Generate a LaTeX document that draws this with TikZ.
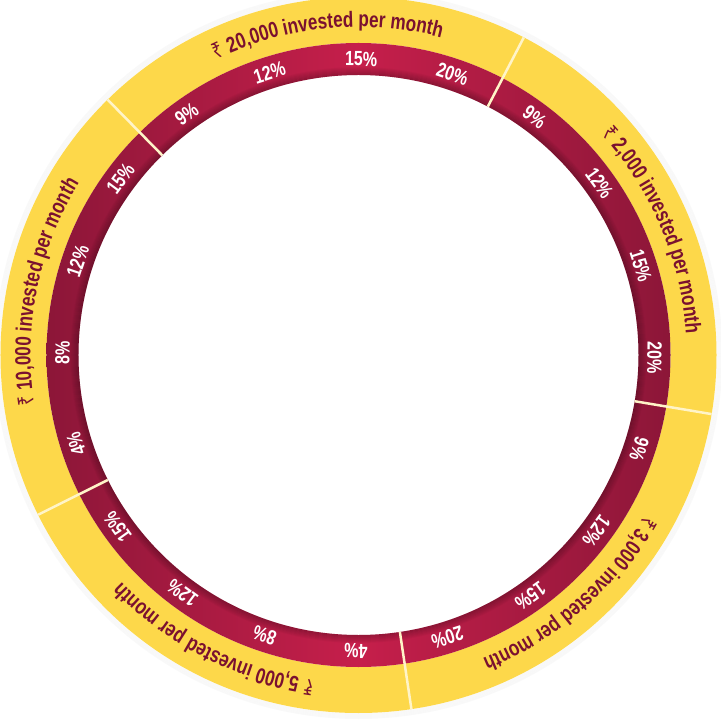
\documentclass[tikz,border=0pt]{standalone}
\usepackage{fontspec}
\setmainfont{Liberation Sans}
\newfontfamily\condfont[FakeStretch=0.78]{Liberation Sans}
\newfontfamily\rupeefont[FakeStretch=0.78]{Noto Sans}
\usetikzlibrary{decorations.text}
\definecolor{bandcol}{RGB}{253, 216, 74}
\definecolor{ringlight}{RGB}{198, 31, 75}
\definecolor{ringdark}{RGB}{140, 22, 56}
\definecolor{labelcol}{RGB}{122, 17, 48}
\definecolor{sepcol}{RGB}{255, 244, 200}
\newcommand{\bandfont}{\condfont\bfseries\fontsize{22bp}{26bp}\selectfont}
\newcommand{\rupeesign}{\rupeefont\bfseries\fontsize{22bp}{26bp}\selectfont}
\newcommand{\pctfont}{\condfont\bfseries\fontsize{20.5bp}{24bp}\selectfont}
\tikzset{
  band/.style   = {fill=bandcol, even odd rule},
  ring/.style   = {left color=ringdark, right color=ringdark,
                   middle color=ringlight, even odd rule},
  sep/.style    = {draw=sepcol, line width=2.5bp},
  pct/.style    = {font=\pctfont, text=white, inner sep=0pt},
  amount/.style = {decorate, decoration={text along path, text align=center,
                   text color=labelcol}},
}

\begin{document}
\begin{tikzpicture}[x=1bp, y=1bp]

  \useasboundingbox (-358.5,-365) rectangle (361.5,355);
  \fill[white] (-358.5,-365) rectangle (361.5,355);
  \coordinate (hub) at (0,0);

  %% ---------------- rings ----------------
  \foreach \i in {1,...,6}
    \draw[black, opacity=0.025, line width=1bp] (hub) circle (357.5+\i);
  \fill[band] (hub) circle (358) circle (312);
  \shade[ring] (hub) circle (312) circle (280);
  \foreach \i in {0,...,7}
    \draw[black, opacity={0.22-0.027*\i}, line width=1bp] (hub) circle (280.5+\i);

  %% ---------------- rates, and the cuts between amounts ----------------
  \foreach \b/\pa/\pb/\pc/\pd [count=\k] in {
      134.5/9/12/15/20,
      62.5/9/12/15/20,
      -9.5/9/12/15/20,
      -81.5/4/8/12/15,
      -153.5/4/8/12/15} {
    \foreach \p [count=\j] in {\pa,\pb,\pc,\pd} {
      \pgfmathsetmacro\a{\b-9-18*(\j-1)}
      \node[pct, rotate=\a-90] (pct-\k-\j) at (\a:296) {\p\%};
    }
    \draw[sep] (\b:280) -- (\b:358);
  }

  %% ---------------- amounts ----------------
  \path[amount, decoration={text={|\rupeesign|₹|\bandfont| 20,000 invested per month}}]
       (130.5:328) arc[start angle=130.5, end angle=60.5, radius=328];
  \path[amount, decoration={text={|\rupeesign|₹|\bandfont| 2,000 invested per month}}]
       (58:328) arc[start angle=58, end angle=-12, radius=328];
  \path[amount, decoration={text={|\rupeesign|₹|\bandfont| 3,000 invested per month}}]
       (-13.5:328) arc[start angle=-13.5, end angle=-83.5, radius=328];
  \path[amount, decoration={text={|\rupeesign|₹|\bandfont| 5,000 invested per month}}]
       (278:328) arc[start angle=278, end angle=208, radius=328];
  \path[amount, decoration={text={|\rupeesign|₹|\bandfont| 10,000 invested per month}}]
       (203.5:328) arc[start angle=203.5, end angle=133.5, radius=328];

\end{tikzpicture}
\end{document}
